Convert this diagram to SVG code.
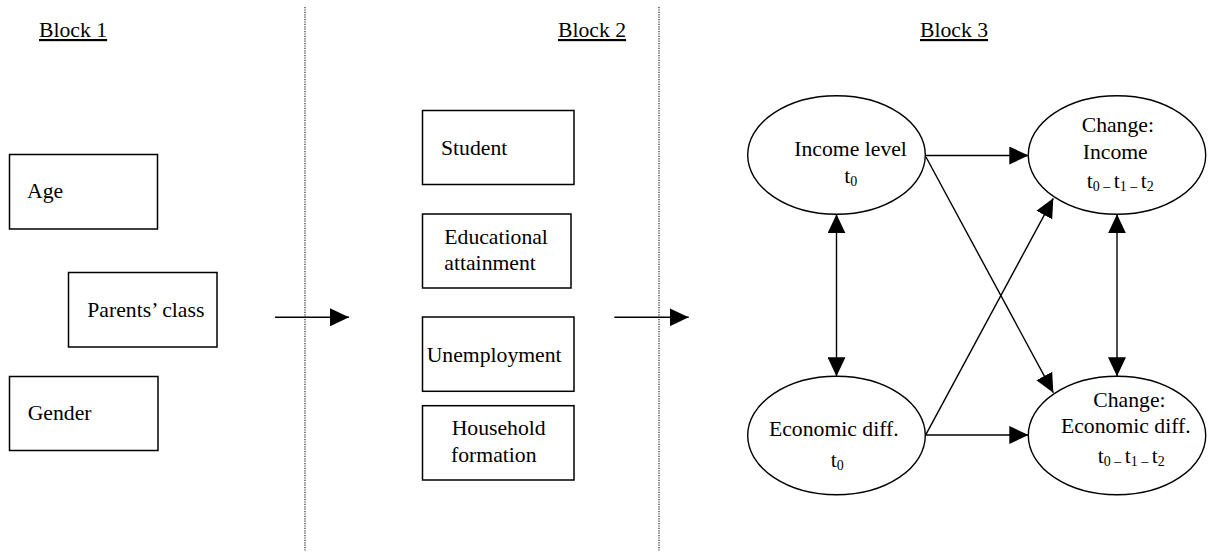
<svg xmlns="http://www.w3.org/2000/svg" width="1210" height="552" viewBox="0 0 1210 552">
<defs>
<marker id="ah" markerUnits="userSpaceOnUse" markerWidth="19" markerHeight="18" refX="19" refY="9" orient="auto-start-reverse" viewBox="0 0 19 18">
<path d="M0,0 L19,9 L0,18 Z" fill="#000"/>
</marker>
<style>
text{font-family:"Liberation Serif","Times New Roman",serif;font-size:21.7px;fill:#000}
.sub{font-size:14px}
.box{fill:#fff;stroke:#000;stroke-width:1.5}
.ell{fill:#fff;stroke:#000;stroke-width:1.4}
.con{stroke:#000;stroke-width:1.4;fill:none}
.sep{stroke:#111;stroke-width:1.1;stroke-dasharray:1.2 1.2;fill:none}
.lbl{text-decoration:underline}
</style>
</defs>
<rect width="1210" height="552" fill="#fff"/>

<g id="separators">
<line class="sep" x1="305" y1="7" x2="305" y2="551"/>
<line class="sep" x1="659" y1="7" x2="659" y2="551"/>
</g>

<g id="labels">
<text class="lbl" x="39" y="37">Block 1</text>
<text class="lbl" x="558" y="37">Block 2</text>
<text class="lbl" x="920" y="37">Block 3</text>
</g>

<g id="age"><rect class="box" x="9.5" y="154.5" width="148" height="74.5"/><text x="27" y="198">Age</text></g>
<g id="parents"><rect class="box" x="68.5" y="272.5" width="148.5" height="74.5"/><text x="87.3" y="317">Parents’ class</text></g>
<g id="gender"><rect class="box" x="9.5" y="376.5" width="148.5" height="74"/><text x="27.7" y="420">Gender</text></g>

<g id="student"><rect class="box" x="422.5" y="110.5" width="151.5" height="74"/><text x="441" y="155">Student</text></g>
<g id="education"><rect class="box" x="422.5" y="214" width="148.5" height="74"/><text x="444.3" y="244">Educational</text><text x="444.3" y="270">attainment</text></g>
<g id="unemployment"><rect class="box" x="422.5" y="317" width="151.5" height="74.3"/><text x="426.7" y="362">Unemployment</text></g>
<g id="household"><rect class="box" x="422.5" y="405.7" width="151.5" height="74.3"/><text x="451.7" y="435">Household</text><text x="451" y="461.7">formation</text></g>

<g id="income0"><ellipse class="ell" cx="836.5" cy="155" rx="88.8" ry="59.3"/><text x="794.3" y="156">Income level</text><text x="844.3" y="183.3">t<tspan class="sub" dy="3">0</tspan></text></g>
<g id="changeIncome"><ellipse class="ell" cx="1117" cy="155" rx="88.7" ry="59.3"/><text x="1086.7" y="188.3">t<tspan class="sub" dy="3">0 – </tspan><tspan dy="-3">t</tspan><tspan class="sub" dy="3">1 – </tspan><tspan dy="-3">t</tspan><tspan class="sub" dy="3">2</tspan></text><text x="1081.7" y="131.7">Change:</text><text x="1082.7" y="159">Income</text></g>
<g id="econ0"><ellipse class="ell" cx="836.5" cy="435.5" rx="88.8" ry="59.2"/><text x="769" y="436">Economic diff.</text><text x="830.7" y="466.7">t<tspan class="sub" dy="3">0</tspan></text></g>
<g id="changeEcon"><ellipse class="ell" cx="1117" cy="435.5" rx="88.7" ry="59.2"/><text x="1093.3" y="406.7">Change:</text><text x="1061" y="433.3">Economic diff.</text><text x="1097.7" y="463.3">t<tspan class="sub" dy="3">0 – </tspan><tspan dy="-3">t</tspan><tspan class="sub" dy="3">1 – </tspan><tspan dy="-3">t</tspan><tspan class="sub" dy="3">2</tspan></text></g>

<g id="connectors">
<line class="con" x1="275" y1="317.3" x2="349" y2="317.3" marker-end="url(#ah)"/>
<line class="con" x1="614.3" y1="317.3" x2="688.7" y2="317.3" marker-end="url(#ah)"/>
<line class="con" x1="925.3" y1="155.5" x2="1028.3" y2="155.5" marker-end="url(#ah)"/>
<line class="con" x1="925.3" y1="435" x2="1028.3" y2="435" marker-end="url(#ah)"/>
<line class="con" x1="836.5" y1="214.3" x2="836.5" y2="376.3" marker-start="url(#ah)" marker-end="url(#ah)"/>
<line class="con" x1="1117" y1="214.3" x2="1117" y2="376.3" marker-start="url(#ah)" marker-end="url(#ah)"/>
<line class="con" x1="926" y1="157" x2="1053.3" y2="392.7" marker-end="url(#ah)"/>
<line class="con" x1="926" y1="434.3" x2="1053.3" y2="198.3" marker-end="url(#ah)"/>
</g>
</svg>
